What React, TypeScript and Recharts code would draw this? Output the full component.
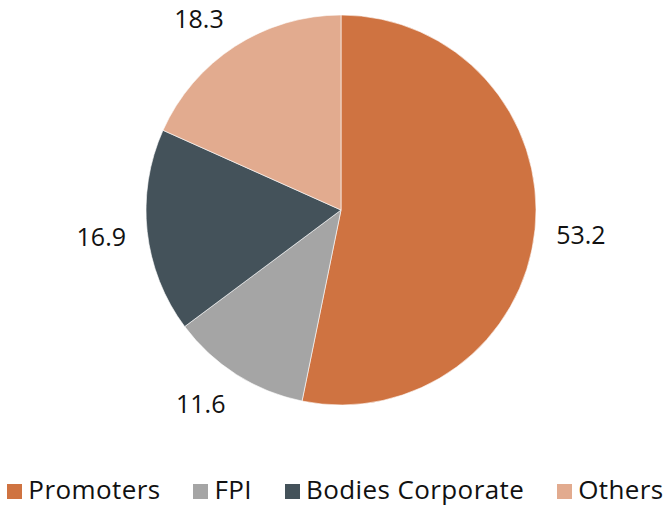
import React from "react";
import { PieChart, Pie, Cell, Legend } from "recharts";

const categories = ["Promoters", "FPI", "Bodies Corporate", "Others"];
const values = [53.2, 11.6, 16.9, 18.3];
const colors = ["#CF7341", "#A5A5A5", "#44525A", "#E2AB8F"];

const data = categories.map((name, i) => ({ name, value: values[i] }));

const FONT = "'Open Sans', 'DejaVu Sans', sans-serif";
const RAD = Math.PI / 180;
const clamp = (v: number) => Math.max(-1, Math.min(1, v));

const renderLabel = (props: any) => {
  const { cx, cy, midAngle, outerRadius, value } = props;
  const r = outerRadius + 22;
  const ux = Math.cos(-midAngle * RAD);
  const uy = Math.sin(-midAngle * RAD);
  const w = 48;
  const h = 19;
  const x = cx + r * ux + (w / 2) * clamp(2 * ux);
  const y = cy + r * uy + (h / 2) * clamp(2 * uy);
  return (
    <text
      x={x}
      y={y}
      fill="#111"
      textAnchor="middle"
      dominantBaseline="central"
      fontFamily={FONT}
      fontSize={25}
    >
      {value.toFixed(1)}
    </text>
  );
};

const renderLegend = () => (
  <div
    style={{
      display: "flex",
      justifyContent: "center",
      alignItems: "center",
      fontFamily: FONT,
      fontSize: 26,
      letterSpacing: 0.4,
      color: "#111",
      gap: 33,
    }}
  >
    {categories.map((c, i) => (
      <div key={c} style={{ display: "flex", alignItems: "center" }}>
        <span
          style={{
            display: "inline-block",
            width: 15,
            height: 15,
            background: colors[i],
            marginRight: 6,
            position: "relative",
            top: 2,
          }}
        />
        <span>{c}</span>
      </div>
    ))}
  </div>
);

export default function App() {
  return (
    <div style={{ position: "absolute", left: 0, top: 0, background: "#fff" }}>
      <PieChart
        width={671}
        height={508}
        margin={{ top: 0, right: 0, bottom: 0, left: 0 }}
      >
        <Pie
          data={data}
          dataKey="value"
          nameKey="name"
          cx={341}
          cy={210}
          outerRadius={195}
          startAngle={90}
          endAngle={-270}
          stroke="#ffffff"
          strokeWidth={0.6}
          label={renderLabel}
          labelLine={false}
          isAnimationActive={false}
        >
          {data.map((d, i) => (
            <Cell key={d.name} fill={colors[i]} />
          ))}
        </Pie>
        <Legend
          content={renderLegend}
          wrapperStyle={{ position: "absolute", left: 0, top: 471, width: 671 }}
        />
      </PieChart>
    </div>
  );
}
